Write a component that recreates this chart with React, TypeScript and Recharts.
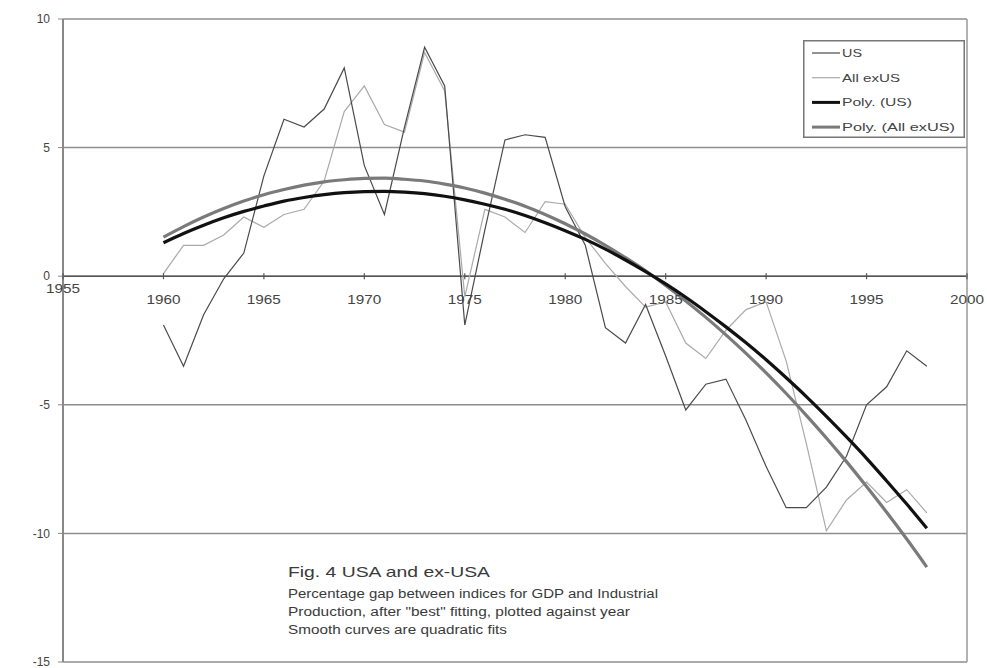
import React from 'react';
import { LineChart, Line, XAxis, YAxis, CartesianGrid, ReferenceLine, ReferenceDot, Legend, Customized } from 'recharts';

const years = [1960, 1961, 1962, 1963, 1964, 1965, 1966, 1967, 1968, 1969, 1970, 1971, 1972, 1973, 1974, 1975, 1976, 1977, 1978, 1979, 1980, 1981, 1982, 1983, 1984, 1985, 1986, 1987, 1988, 1989, 1990, 1991, 1992, 1993, 1994, 1995, 1996, 1997, 1998];
const usValues = [-1.9, -3.5, -1.5, -0.1, 0.9, 3.9, 6.1, 5.8, 6.5, 8.1, 4.3, 2.4, 5.8, 8.9, 7.4, -1.9, 1.8, 5.3, 5.5, 5.4, 2.7, 1.2, -2.0, -2.6, -1.1, -3.1, -5.2, -4.2, -4.0, -5.6, -7.4, -9.0, -9.0, -8.2, -7.0, -5.0, -4.3, -2.9, -3.5];
const exUsValues = [0.1, 1.2, 1.2, 1.6, 2.3, 1.9, 2.4, 2.6, 3.7, 6.4, 7.4, 5.9, 5.6, 8.7, 7.2, -0.8, 2.6, 2.3, 1.7, 2.9, 2.8, 1.5, 0.5, -0.4, -1.2, -1.0, -2.6, -3.2, -2.1, -1.3, -1.0, -3.3, -6.5, -9.9, -8.7, -8.0, -8.8, -8.3, -9.2];
const polyUsValues = [1.30, 1.66, 1.98, 2.27, 2.52, 2.73, 2.92, 3.06, 3.17, 3.25, 3.29, 3.30, 3.27, 3.21, 3.11, 2.97, 2.80, 2.60, 2.36, 2.08, 1.77, 1.43, 1.05, 0.63, 0.18, -0.30, -0.82, -1.38, -1.97, -2.59, -3.25, -3.95, -4.68, -5.45, -6.25, -7.08, -7.96, -8.86, -9.80];
const polyExUsValues = [1.52, 1.93, 2.30, 2.63, 2.92, 3.17, 3.37, 3.54, 3.67, 3.75, 3.80, 3.81, 3.77, 3.70, 3.58, 3.43, 3.23, 2.99, 2.72, 2.40, 2.04, 1.64, 1.20, 0.72, 0.21, -0.36, -0.96, -1.60, -2.28, -3.00, -3.76, -4.56, -5.41, -6.29, -7.21, -8.18, -9.18, -10.22, -11.31];

const xTicks = [1955, 1960, 1965, 1970, 1975, 1980, 1985, 1990, 1995, 2000];
const yTicks = [-15, -10, -5, 0, 5, 10];
const legendLabels = ['US', 'All exUS', 'Poly.  (US)', 'Poly.  (All exUS)'];
const captionLines = [
  'Fig. 4   USA and ex-USA',
  'Percentage gap between indices for GDP and Industrial',
  'Production, after "best" fitting, plotted against year',
  'Smooth curves are quadratic fits',
];

const data = years.map((year, i) => ({
  year,
  us: usValues[i],
  exUs: exUsValues[i],
  polyUs: polyUsValues[i],
  polyExUs: polyExUsValues[i],
}));

const FONT = '"Liberation Sans", Arial, sans-serif';

const legendStyles = [
  { stroke: '#4a4a4a', width: 1.2, textLen: 20 },
  { stroke: '#aaa', width: 1.2, textLen: 58 },
  { stroke: '#111', width: 3, textLen: 70 },
  { stroke: '#7a7a7a', width: 3, textLen: 113 },
];

const LegendBox = () => (
  <svg width={162} height={98} style={{ display: 'block' }}>
    <rect x={0.75} y={0.75} width={160.5} height={96.5} fill="#fff" stroke="#777" strokeWidth={1.5} />
    {legendLabels.map((label, i) => {
      const y = 13 + i * 24.7;
      const s = legendStyles[i];
      return (
        <g key={label}>
          <line x1={9} x2={37} y1={y} y2={y} stroke={s.stroke} strokeWidth={s.width} />
          <text x={39} y={y + 4} fontSize={11} fontFamily={FONT} fill="#444" textLength={s.textLen} lengthAdjust="spacingAndGlyphs">
            {label}
          </text>
        </g>
      );
    })}
  </svg>
);

const captionStyles = [
  { size: 15, len: 202, y: 577 },
  { size: 12.5, len: 370, y: 598 },
  { size: 12.5, len: 342, y: 616 },
  { size: 12.5, len: 219, y: 634 },
];

const Caption = () => (
  <g>
    {captionLines.map((line, i) => (
      <text key={i} x={288} y={captionStyles[i].y} fontSize={captionStyles[i].size} fontFamily={FONT} fill="#3a3a3a"
        textLength={captionStyles[i].len} lengthAdjust="spacingAndGlyphs">
        {line}
      </text>
    ))}
  </g>
);

const makeTickShape = (label: string, first: boolean) => (props: any) => {
  const { cx, cy } = props;
  return (
    <g>
      <line x1={cx} x2={cx} y1={cy - 3} y2={cy + 3} stroke="#555" strokeWidth={1.2} />
      <text x={cx - 17} y={cy + (first ? 17 : 28)} textAnchor="start" fontSize={13} fontFamily={FONT} fill="#444"
        textLength={34} lengthAdjust="spacingAndGlyphs">
        {label}
      </text>
    </g>
  );
};

export default function App() {
  return (
    <div style={{ position: 'absolute', left: 0, top: 0, width: 987, height: 668, overflow: 'hidden', background: '#fff' }}>
      <LineChart width={987} height={668} data={data} margin={{ top: 19, right: 20, bottom: 6, left: 0 }}>
        <CartesianGrid vertical={false} stroke="#8e8e8e" strokeWidth={1.5} />
        <XAxis type="number" dataKey="year" domain={[1955, 2000]} ticks={xTicks} hide />
        <YAxis type="number" domain={[-15, 10]} ticks={yTicks} width={63} interval={0}
          axisLine={{ stroke: '#888', strokeWidth: 2 }} tickLine={{ stroke: '#888' }} tickSize={5} tickMargin={8}
          tick={{ fontSize: 12, fill: '#444', fontFamily: FONT }} />
        <ReferenceLine y={0} stroke="#555" strokeWidth={1.5} />
        <ReferenceLine x={2000} stroke="#999" strokeWidth={1.5} />
        {xTicks.map((t) => (
          <ReferenceDot key={t} x={t} y={0} r={0} ifOverflow="visible" shape={makeTickShape(String(t), t === 1955)} />
        ))}
        <Line type="linear" dataKey="exUs" stroke="#aaa" strokeWidth={1.2} dot={false} isAnimationActive={false} />
        <Line type="linear" dataKey="us" stroke="#4a4a4a" strokeWidth={1.2} dot={false} isAnimationActive={false} />
        <Line type="monotone" dataKey="polyExUs" stroke="#7a7a7a" strokeWidth={3.2} dot={false} isAnimationActive={false} />
        <Line type="monotone" dataKey="polyUs" stroke="#111" strokeWidth={3.2} dot={false} isAnimationActive={false} />
        <Legend layout="horizontal" verticalAlign="middle" align="center" width={162} height={98}
          wrapperStyle={{ left: 803, top: 40 }} content={() => <LegendBox />} />
        <Customized component={Caption} />
      </LineChart>
    </div>
  );
}
